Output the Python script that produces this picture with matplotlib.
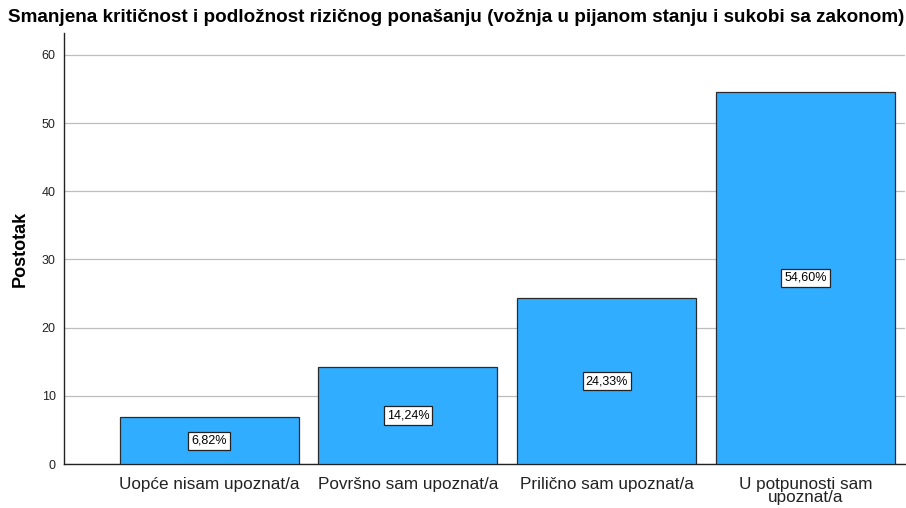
import matplotlib
matplotlib.use("Agg")
import matplotlib.pyplot as plt

categories = ["Uopće nisam upoznat/a", "Površno sam upoznat/a",
              "Prilično sam upoznat/a", "U potpunosti sam\nupoznat/a"]
values = [6.82, 14.24, 24.33, 54.60]
yticks = [0, 10, 20, 30, 40, 50, 60]
title = "Smanjena kritičnost i podložnost rizičnog ponašanju (vožnja u pijanom stanju i sukobi sa zakonom)"

plt.rcParams['font.family'] = ['Liberation Sans', 'DejaVu Sans']

fig = plt.figure(figsize=(9.06, 5.08), dpi=100)
ax = fig.add_axes([0.0706, 0.0866, 0.9284, 0.8484])

x = list(range(len(categories)))
ax.bar(x, values, width=0.9, color="#31adff", edgecolor="#2b2b2b", linewidth=0.9, zorder=3)
for xi, v in zip(x, values):
    ax.text(xi, v / 2, f"{v:.2f}%".replace(".", ","), ha="center", va="center",
            fontsize=9, zorder=4,
            bbox=dict(boxstyle="square,pad=0.25", facecolor="white", edgecolor="#222222", linewidth=0.9))

ax.set_xlim(-0.73, 3.5)
ax.set_ylim(0, 63.2)
ax.set_yticks(yticks)
ax.set_yticklabels([str(t) for t in yticks], fontsize=9, color="#222222")
ax.set_xticks(x)
ax.set_xticklabels(categories, fontsize=12.3, color="#222222", linespacing=0.85)
ax.tick_params(axis="both", length=0)
ax.tick_params(axis="y", pad=6)
ax.tick_params(axis="x", pad=9)
ax.yaxis.grid(True, color="#bdbdbd", linewidth=0.9, zorder=0)
ax.set_axisbelow(True)
for s in ["top", "right"]:
    ax.spines[s].set_visible(False)
for s in ["left", "bottom"]:
    ax.spines[s].set_color("#222222")
    ax.spines[s].set_linewidth(1.0)

ax.set_ylabel("Postotak", fontsize=13, fontweight="bold", labelpad=9)
fig.text(0.504, 0.965, title, ha="center", va="center", fontsize=13.6, fontweight="bold")

fig.savefig("out.png", dpi=100)
